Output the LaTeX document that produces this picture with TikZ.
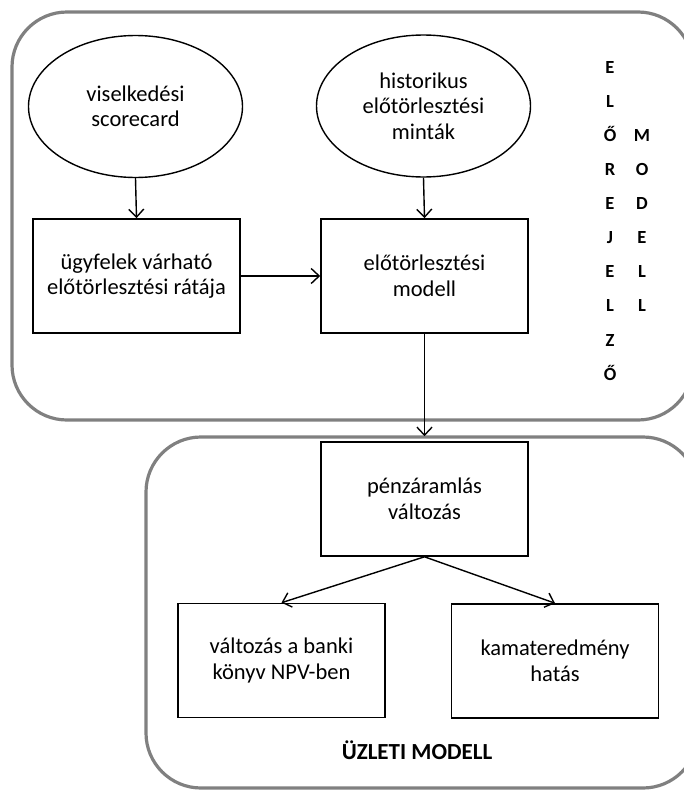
\documentclass[tikz,border=0pt]{standalone}
\usepackage{fontspec}
\setmainfont{Carlito}
\usetikzlibrary{shapes.geometric,arrows.meta}

\begin{document}
\begin{tikzpicture}[x=1pt,y=-1pt,
  box/.style={draw,line width=1.6pt,minimum width=207pt,minimum height=114pt,align=center,inner sep=0pt,font=\fontsize{22.5}{25.5}\selectfont},
  blob/.style={ellipse,draw,line width=1.4pt,minimum width=214pt,minimum height=142pt,align=center,inner sep=0pt,font=\fontsize{22.5}{25.5}\selectfont},
  frame/.style={draw=black!50,line width=3.2pt,rounded corners=55pt},
  letters/.style={anchor=north,align=center,inner sep=0pt,font=\bfseries\fontsize{18.5}{34.1}\selectfont},
  arr/.style={-{Straight Barb[length=8pt,width=15pt]},line width=1.4pt}]
\clip (0,0) rectangle (684,790);
% the two model frames
\draw[frame] (12,12) rectangle (693,420);
\draw[frame] (146,437) rectangle (698,788);
\node (score) at (135.5,106.5)[blob] {viselkedési\\scorecard};
\node (minta) at (423.5,106)[blob] {historikus\\előtörlesztési\\minták};
\node (rata) at (136.5,276)[box] {ügyfelek várható\\előtörlesztési rátája};
\node (pmodell) at (424.5,276)[box] {előtörlesztési\\modell};
\node (cash) at (424.5,499)[box] {pénzáramlás\\változás};
\node (npv) at (281.5,660.5)[box] {változás a banki\\könyv NPV-ben};
\node (kamat) at (555,661)[box] {kamateredmény\\hatás};
\node (elore) at (610,61)[letters] {E\\L\\Ő\\R\\E\\J\\E\\L\\Z\\Ő};
\node (modell) at (642,129.2)[letters] {M\\O\\D\\E\\L\\L};
\node (uzleti) at (417,750)[font=\bfseries\fontsize{23}{26}\selectfont] {ÜZLETI MODELL};
\draw[arr] (score.south) -- (rata.north);
\draw[arr] (minta.south) -- (pmodell.north);
\draw[arr] (rata) -- (pmodell);
\draw[arr,shorten >=5pt] (pmodell) -- (cash);
\draw[arr] (cash.south) -- (npv.north);
\draw[arr] (cash.south) -- (kamat.north);
\end{tikzpicture}
\end{document}
